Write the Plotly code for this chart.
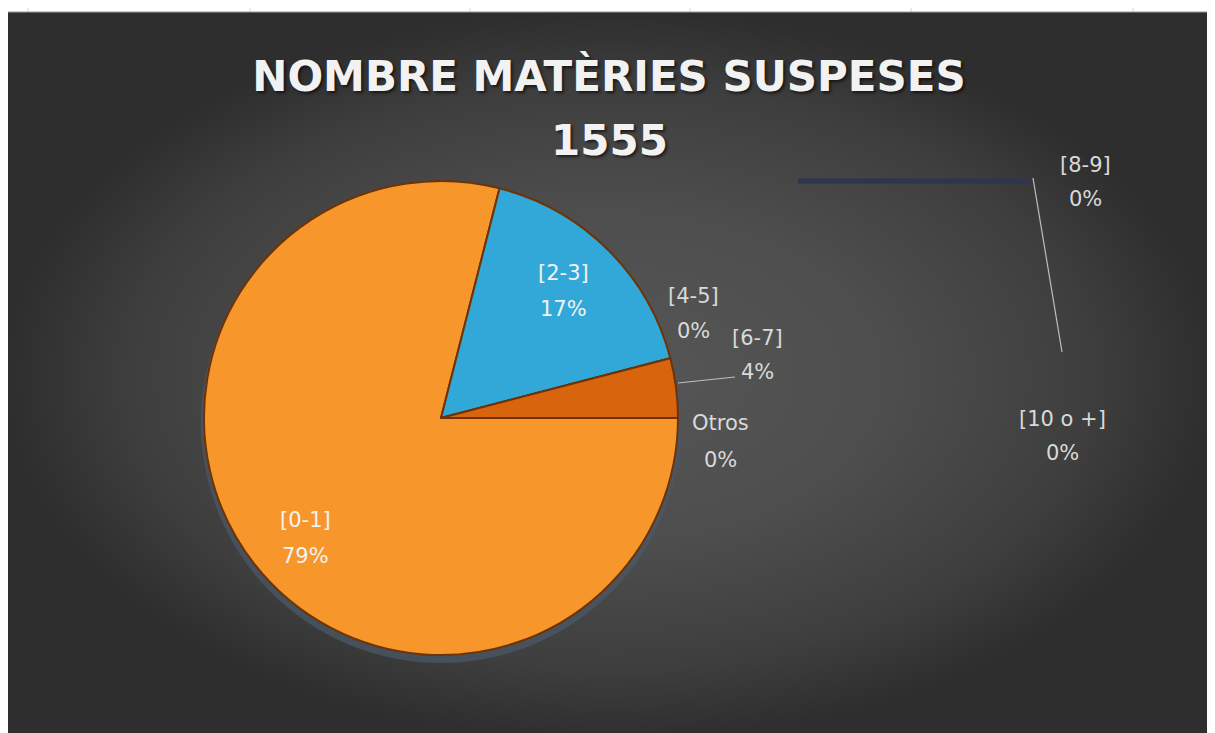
import plotly.graph_objects as go

# Dades del gràfic
categories = ["[0-1]", "[2-3]", "[4-5]", "[6-7]", "[8-9]", "[10 o +]", "Otros"]
alumnes = [1228, 264, 0, 63, 0, 0, 0]
colors = ["#F7962B", "#32A8D8", "#A5A5A5", "#D8640E", "#2E3652", "#5B9BD5", "#F4A046"]
titol = "NOMBRE MATÈRIES SUSPESES"
subtitol = "1555"

total = sum(alumnes)

# posicio de cada etiqueta (x, y linia 1, y linia 2) en pixels de la pantalla
pos_etiquetes = {
    "[0-1]": (305, 520, 556),
    "[2-3]": (563, 273, 309),
    "[4-5]": (693, 296, 331),
    "[6-7]": (757, 338, 372),
    "[8-9]": (1085, 165, 199),
    "[10 o +]": (1062, 419, 453),
    "Otros": (720, 423, 460),
}

W, H = 1215, 733
OFF = 8  # marge del body de la pàgina

fig = go.Figure()

# fons del gràfic amb degradat (estil Excel)
fig.add_trace(go.Scatter(
    x=[8, 1212, 1212, 8, 8], y=[12, 12, H + OFF, H + OFF, 12],
    mode="lines", fill="toself", line=dict(width=0),
    fillgradient=dict(type="radial", colorscale=[[0, "#565656"], [0.45, "#4e4e4e"],
                                                 [0.8, "#3e3e3e"], [1, "#2e2e2e"]]),
    hoverinfo="skip", showlegend=False,
))


def domini(cx, cy, r):
    return dict(x=[(cx - OFF - r) / W, (cx - OFF + r) / W],
                y=[(H + OFF - cy - r) / H, (H + OFF - cy + r) / H])


# ombra del pastís
fig.add_trace(go.Pie(
    labels=categories, values=alumnes, sort=False,
    direction="clockwise", rotation=90,
    marker=dict(colors=["#4a5866"] * len(categories), line=dict(width=0)),
    textinfo="none", hoverinfo="skip", opacity=0.75,
    domain=domini(441, 423, 240),
    showlegend=False,
))

# pastís
fig.add_trace(go.Pie(
    labels=categories, values=alumnes, sort=False,
    direction="clockwise", rotation=90,
    marker=dict(colors=colors, line=dict(color="#6e3306", width=2)),
    textinfo="none", hoverinfo="label+percent",
    domain=domini(441, 418, 237),
    showlegend=False,
))

# etiquetes de dades
anotacions = []
for cat, val in zip(categories, alumnes):
    x, y1, y2 = pos_etiquetes[cat]
    pct = f"{round(100 * val / total)}%"
    color = "#f2f2f2" if val / total > 0.1 else "#d9d9d9"
    for txt, yy in ((cat, y1), (pct, y2)):
        anotacions.append(dict(
            x=x, y=yy, xref="x", yref="y", text=txt, showarrow=False,
            xanchor="center", yanchor="middle",
            font=dict(family="DejaVu Sans", size=21, color=color),
        ))

anotacions.append(dict(
    x=609, y=140, xref="x", yref="y", text=f"<b>{subtitol}</b>", showarrow=False,
    xanchor="center", yanchor="middle",
    font=dict(family="DejaVu Sans", size=42, color="#f2f2f2", shadow="2px 2px 3px rgba(0,0,0,0.6)"),
))

shapes = []
# linies guia
shapes.append(dict(type="line", x0=678, y0=383, x1=735, y1=377, xref="x", yref="y",
                   line=dict(color="#bfbfbf", width=1.2)))
shapes.append(dict(type="line", x0=1033, y0=178, x1=1062, y1=352, xref="x", yref="y",
                   line=dict(color="#bfbfbf", width=1.2)))
# traç fosc de la porció [8-9]
shapes.append(dict(type="line", x0=798, y0=181, x1=1030, y1=181, xref="x", yref="y",
                   line=dict(color="#2d3550", width=5)))
# quadrícula del full de càlcul
for gx in [28, 250, 470, 690, 911, 1133]:
    shapes.append(dict(type="line", x0=gx, y0=0, x1=gx, y1=12, xref="x", yref="y",
                       line=dict(color="#d4d4d4", width=1)))
for gy in range(65, H, 50):
    shapes.append(dict(type="line", x0=1212, y0=gy, x1=W + OFF, y1=gy, xref="x", yref="y",
                       line=dict(color="#d4d4d4", width=1)))
shapes.append(dict(type="line", x0=8, y0=12, x1=1212, y1=12, xref="x", yref="y",
                   line=dict(color="#9a9a9a", width=1)))

fig.update_layout(
    width=W, height=H,
    margin=dict(l=0, r=0, t=0, b=0),
    paper_bgcolor="white", plot_bgcolor="white",
    xaxis=dict(range=[OFF, W + OFF], visible=False, fixedrange=True, domain=[0, 1]),
    yaxis=dict(range=[H + OFF, OFF], visible=False, fixedrange=True, domain=[0, 1]),
    title=dict(
        text=f"<b>{titol}</b>", x=(609 - OFF) / W, xanchor="center", y=1 - (76 - OFF) / H,
        yanchor="middle",
        font=dict(family="DejaVu Sans", size=42, color="#f2f2f2", shadow="2px 2px 3px rgba(0,0,0,0.6)"),
    ),
    annotations=anotacions,
    shapes=shapes,
)

fig.write_html("out.html")
